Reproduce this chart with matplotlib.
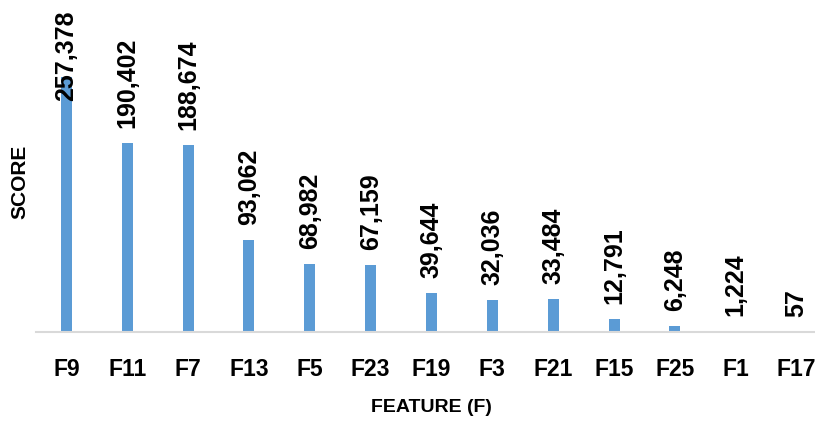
import matplotlib
matplotlib.use("Agg")
import matplotlib.pyplot as plt

features = ["F9", "F11", "F7", "F13", "F5", "F23", "F19", "F3", "F21", "F15", "F25", "F1", "F17"]
scores = [257378, 190402, 188674, 93062, 68982, 67159, 39644, 32036, 33484, 12791, 6248, 1224, 57]

BAR_COLOR = "#5B9BD5"
AXIS_COLOR = "#D9D9D9"
Y_MAX = 334600
LABEL_PAD = 15000
LABEL_CAP = 233000

W, H = 815, 424
fig = plt.figure(figsize=(W / 100, H / 100), dpi=100)
ax = fig.add_axes([36 / W, (H - 332) / H, (827 - 36) / W, 332 / H])

x = list(range(len(features)))
ax.bar(x, scores, width=0.18, color=BAR_COLOR, zorder=2)

ax.set_xlim(-0.5, len(features) - 0.5)
ax.set_ylim(0, Y_MAX)

for xi, v in zip(x, scores):
    ax.text(xi, min(v + LABEL_PAD, LABEL_CAP), f"{v:,}", rotation=90,
            ha="center", va="bottom", fontsize=18, fontweight="bold",
            family="Liberation Sans", color="black", zorder=3)

ax.set_xticks(x)
ax.set_xticklabels(features, fontsize=16.5, fontweight="bold", family="Liberation Sans")
ax.tick_params(axis="x", length=0, pad=19)
ax.set_yticks([])

for side in ["top", "right", "left"]:
    ax.spines[side].set_visible(False)
ax.spines["bottom"].set_color(AXIS_COLOR)
ax.spines["bottom"].set_linewidth(1.5)

fig.text(431 / W, 1 - 407 / H, "FEATURE (F)", ha="center", va="center",
         fontsize=14, fontweight="bold", family="Liberation Sans")
fig.text(20 / W, 1 - 182 / H, "SCORE", ha="center", va="center", rotation=90,
         fontsize=15, fontweight="bold", family="Liberation Sans")

fig.savefig("out.png", dpi=100)
